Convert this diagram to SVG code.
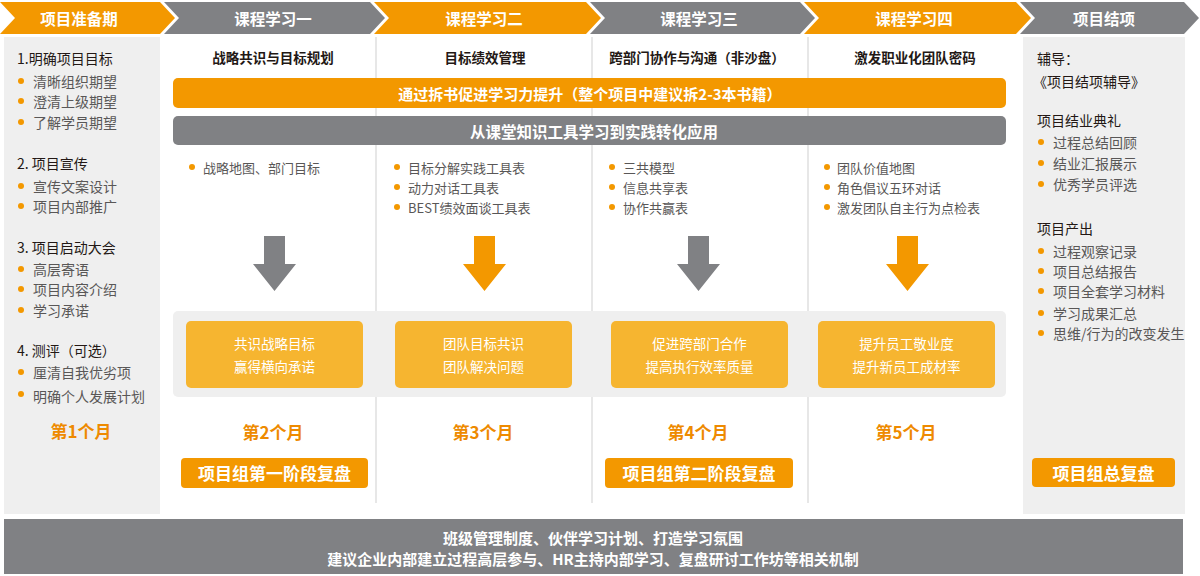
<svg xmlns="http://www.w3.org/2000/svg" width="1200" height="576" viewBox="0 0 1200 576">
<defs>
<style>
text{font-family:"Noto Sans CJK SC","Liberation Sans",sans-serif;dominant-baseline:central}
.hd{fill:#fff;font-size:15.5px;font-weight:700;text-anchor:middle}
.or{fill:#F39800}
.gr{fill:#808184}
.panel{fill:#EFEFEF}
.vl{stroke:#CFCFCF;stroke-width:1}
.h{fill:#231815;font-size:14px}
.b{fill:#595757;font-size:14px}
.sb{fill:#595757;font-size:13px}
.dot{fill:#F39800}
.ct{fill:#231815;font-size:13.5px;font-weight:700;text-anchor:middle}
.bar{fill:#fff;font-size:15px;font-weight:700;text-anchor:middle}
.box{fill:#F6B530}
.bx{fill:#fff;font-size:13.5px;text-anchor:middle}
.mo{fill:#EE8A00;font-size:17px;font-weight:700;text-anchor:middle}
.rv{fill:#fff;font-size:17px;font-weight:700;text-anchor:middle}
.bt{fill:#fff;font-size:15px;font-weight:700;text-anchor:middle}
</style>
</defs>
<rect width="1200" height="576" fill="#fff"/>

<g id="header">
<path class="or" d="M0,2 H160 L175,18 L160,34 H0 L15,18 Z"/>
<path class="gr" d="M164,2 H370 L385,18 L370,34 H164 L179,18 Z"/>
<path class="or" d="M374,2 H586 L601,18 L586,34 H374 L389,18 Z"/>
<path class="gr" d="M590,2 H800 L815,18 L800,34 H590 L605,18 Z"/>
<path class="or" d="M804,2 H1016 L1031,18 L1016,34 H804 L819,18 Z"/>
<path class="gr" d="M1020,2 H1184 L1199,18 L1184,34 H1020 L1035,18 Z"/>
<text class="hd" x="79" y="18">项目准备期</text>
<text class="hd" x="273" y="18">课程学习一</text>
<text class="hd" x="484" y="18">课程学习二</text>
<text class="hd" x="699" y="18">课程学习三</text>
<text class="hd" x="914" y="18">课程学习四</text>
<text class="hd" x="1104" y="18">项目结项</text>
</g>

<g id="gridlines">
<line class="vl" x1="376" y1="37" x2="376" y2="503"/>
<line class="vl" x1="592" y1="37" x2="592" y2="503"/>
<line class="vl" x1="808" y1="37" x2="808" y2="503"/>
</g>

<g id="prep">
<rect class="panel" x="4" y="37" width="156" height="477"/>
<text class="h" x="17" y="58">1.明确项目目标</text>
<circle class="dot" cx="21" cy="81" r="3"/><text class="b" x="33" y="81">清晰组织期望</text>
<circle class="dot" cx="21" cy="101" r="3"/><text class="b" x="33" y="101">澄清上级期望</text>
<circle class="dot" cx="21" cy="122" r="3"/><text class="b" x="33" y="122">了解学员期望</text>
<text class="h" x="17" y="163">2. 项目宣传</text>
<circle class="dot" cx="21" cy="186" r="3"/><text class="b" x="33" y="186">宣传文案设计</text>
<circle class="dot" cx="21" cy="206" r="3"/><text class="b" x="33" y="206">项目内部推广</text>
<text class="h" x="17" y="247">3. 项目启动大会</text>
<circle class="dot" cx="21" cy="269" r="3"/><text class="b" x="33" y="269">高层寄语</text>
<circle class="dot" cx="21" cy="289" r="3"/><text class="b" x="33" y="289">项目内容介绍</text>
<circle class="dot" cx="21" cy="310" r="3"/><text class="b" x="33" y="310">学习承诺</text>
<text class="h" x="17" y="350">4. 测评（可选）</text>
<circle class="dot" cx="21" cy="372" r="3"/><text class="b" x="33" y="372">厘清自我优劣项</text>
<circle class="dot" cx="21" cy="394" r="3"/><text class="b" x="33" y="396">明确个人发展计划</text>
<text class="mo" x="81" y="430">第1个月</text>
</g>

<g id="closing">
<rect class="panel" x="1023" y="37" width="162" height="477"/>
<text class="h" x="1037" y="58">辅导：</text>
<text class="h" x="1033" y="81">《项目结项辅导》</text>
<text class="h" x="1037" y="120">项目结业典礼</text>
<circle class="dot" cx="1041" cy="142" r="3"/><text class="b" x="1053" y="142">过程总结回顾</text>
<circle class="dot" cx="1041" cy="163" r="3"/><text class="b" x="1053" y="163">结业汇报展示</text>
<circle class="dot" cx="1041" cy="184" r="3"/><text class="b" x="1053" y="184">优秀学员评选</text>
<text class="h" x="1037" y="228">项目产出</text>
<circle class="dot" cx="1041" cy="251" r="3"/><text class="b" x="1053" y="251">过程观察记录</text>
<circle class="dot" cx="1041" cy="271" r="3"/><text class="b" x="1053" y="271">项目总结报告</text>
<circle class="dot" cx="1041" cy="291" r="3"/><text class="b" x="1053" y="291">项目全套学习材料</text>
<circle class="dot" cx="1041" cy="313" r="3"/><text class="b" x="1053" y="313">学习成果汇总</text>
<circle class="dot" cx="1041" cy="333" r="3"/><text class="b" x="1053" y="333">思维/行为的改变发生</text>
<rect class="or" x="1032" y="458" width="143" height="29" rx="4"/>
<text class="rv" x="1103.5" y="472.5">项目组总复盘</text>
</g>

<g id="course-titles">
<text class="ct" x="273" y="57">战略共识与目标规划</text>
<text class="ct" x="485" y="57">目标绩效管理</text>
<text class="ct" x="697" y="57">跨部门协作与沟通（非沙盘）</text>
<text class="ct" x="915" y="57">激发职业化团队密码</text>
</g>

<g id="bars">
<rect class="or" x="173" y="78" width="833" height="30" rx="5"/>
<text class="bar" x="590" y="93">通过拆书促进学习力提升（整个项目中建议拆2-3本书籍）</text>
<rect class="gr" x="173" y="116" width="833" height="29" rx="5"/>
<text class="bar" x="594" y="130.5" style="font-size:15.5px">从课堂知识工具学习到实践转化应用</text>
</g>

<g id="tools">
<circle class="dot" cx="192" cy="167" r="3"/><text class="sb" x="203" y="167">战略地图、部门目标</text>
<circle class="dot" cx="397" cy="167" r="3"/><text class="sb" x="408" y="167">目标分解实践工具表</text>
<circle class="dot" cx="397" cy="187" r="3"/><text class="sb" x="408" y="187">动力对话工具表</text>
<circle class="dot" cx="397" cy="207" r="3"/><text class="sb" x="408" y="207">BEST绩效面谈工具表</text>
<circle class="dot" cx="612" cy="167" r="3"/><text class="sb" x="623" y="167">三共模型</text>
<circle class="dot" cx="612" cy="187" r="3"/><text class="sb" x="623" y="187">信息共享表</text>
<circle class="dot" cx="612" cy="207" r="3"/><text class="sb" x="623" y="207">协作共赢表</text>
<circle class="dot" cx="827" cy="167" r="3"/><text class="sb" x="837" y="167">团队价值地图</text>
<circle class="dot" cx="827" cy="187" r="3"/><text class="sb" x="837" y="187">角色倡议五环对话</text>
<circle class="dot" cx="827" cy="207" r="3"/><text class="sb" x="837" y="207">激发团队自主行为点检表</text>
</g>

<g id="connectors">
<path class="gr" d="M264,236 H285 V264 H296 L274.5,291 L253,264 H264 Z"/>
<path class="or" d="M474,236 H495 V264 H506 L484.5,291 L463,264 H474 Z"/>
<path class="gr" d="M688,236 H709 V264 H720 L698.5,291 L677,264 H688 Z"/>
<path class="or" d="M897,236 H918 V264 H929 L907.5,291 L886,264 H897 Z"/>
</g>

<g id="outcomes">
<rect class="panel" x="173" y="311" width="833" height="86" rx="5"/>
<rect class="box" x="186" y="321" width="177" height="67" rx="5"/>
<text class="bx" x="274.5" y="343">共识战略目标</text>
<text class="bx" x="274.5" y="366">赢得横向承诺</text>
<rect class="box" x="395" y="321" width="177" height="67" rx="5"/>
<text class="bx" x="483.5" y="343">团队目标共识</text>
<text class="bx" x="483.5" y="366">团队解决问题</text>
<rect class="box" x="611" y="321" width="177" height="67" rx="5"/>
<text class="bx" x="699.5" y="343">促进跨部门合作</text>
<text class="bx" x="699.5" y="366">提高执行效率质量</text>
<rect class="box" x="818" y="321" width="177" height="67" rx="5"/>
<text class="bx" x="906.5" y="343">提升员工敬业度</text>
<text class="bx" x="906.5" y="366">提升新员工成材率</text>
</g>

<g id="months">
<text class="mo" x="273" y="431">第2个月</text>
<text class="mo" x="483" y="431">第3个月</text>
<text class="mo" x="698" y="431">第4个月</text>
<text class="mo" x="906" y="431">第5个月</text>
</g>

<g id="reviews">
<rect class="or" x="181" y="458" width="187" height="30" rx="4"/>
<text class="rv" x="274.5" y="472.5">项目组第一阶段复盘</text>
<rect class="or" x="605" y="458" width="188" height="30" rx="4"/>
<text class="rv" x="699" y="472.5">项目组第二阶段复盘</text>
</g>

<g id="footer">
<rect class="gr" x="4" y="519" width="1179" height="55"/>
<text class="bt" x="593" y="537">班级管理制度、伙伴学习计划、打造学习氛围</text>
<text class="bt" x="593" y="558">建议企业内部建立过程高层参与、HR主持内部学习、复盘研讨工作坊等相关机制</text>
</g>
</svg>
